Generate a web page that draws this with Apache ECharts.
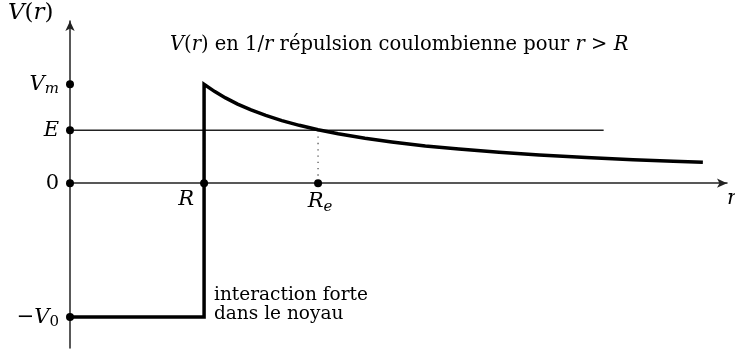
<!DOCTYPE html>
<html>
<head>
<meta charset="utf-8">
<style>
  html, body { margin: 0; padding: 0; background: #fff; }
  #chart { width: 735px; height: 352px; }
</style>
<script src="https://cdn.jsdelivr.net/npm/echarts@6/dist/echarts.min.js"></script>
</head>
<body>
<div id="chart"></div>
<script>
// r in units of the nuclear radius R, V in units of the barrier height Vm
const R = 1;
const Re = 1.85;
const Vm = 1;
const E = 0.535;
const V0 = 1.354;
const wellR = [0, 1];
const energyLineEnd = 3.98;

// Coulomb tail for r > R, read point by point
const tailR = [1, 1.08, 1.16, 1.25, 1.35, 1.46, 1.58, 1.71, 1.85, 2.0, 2.2, 2.4, 2.65, 2.9, 3.2, 3.5, 3.85, 4.2, 4.5, 4.72];
const tailV = [1, 0.926, 0.862, 0.8, 0.741, 0.685, 0.633, 0.585, 0.54, 0.5, 0.455, 0.417, 0.377, 0.345, 0.313, 0.286, 0.26, 0.238, 0.222, 0.212];

const xMax = 4.9;
const yMax = 1.64;
const yMin = -1.667;

const serif = '"DejaVu Serif", "Liberation Serif", serif';
const ink = '#000';

const potential = [[wellR[0], -V0], [wellR[1], -V0]]
  .concat(tailR.map((r, i) => [r, tailV[i]]));

const yMarks = [
  { value: [0, Vm], text: '{v|V}{s|m}' },
  { value: [0, E], text: '{v|E}' },
  { value: [0, 0], text: '{u|0}' },
  { value: [0, -V0], text: '{u|−}{v|V}{su|0}' }
];

const rich = {
  v: { fontFamily: serif, fontStyle: 'italic', fontSize: 21, color: ink },
  u: { fontFamily: serif, fontSize: 21, color: ink },
  big: { fontFamily: serif, fontStyle: 'italic', fontSize: 23, color: ink },
  bigu: { fontFamily: serif, fontSize: 23, color: ink },
  t: { fontFamily: serif, fontSize: 19.5, color: ink },
  tv: { fontFamily: serif, fontStyle: 'italic', fontSize: 19.5, color: ink },
  s: { fontFamily: serif, fontStyle: 'italic', fontSize: 15, color: ink, padding: [10, 0, 0, 0] },
  su: { fontFamily: serif, fontSize: 15, color: ink, padding: [10, 0, 0, 0] }
};

const labelBase = { show: true, color: ink, rich: rich };
const dotStyle = { color: '#000', opacity: 1 };

const chart = echarts.init(document.getElementById('chart'), null, { renderer: 'canvas' });
chart.setOption({
  animation: false,
  backgroundColor: '#fff',
  grid: { left: 70, right: 8, top: 21, bottom: 4 },
  xAxis: {
    type: 'value', min: 0, max: xMax,
    axisLine: { show: true, onZero: true, symbol: ['none', 'arrow'], symbolSize: [7, 10],
      lineStyle: { color: '#222', width: 1.5 } },
    axisTick: { show: false }, axisLabel: { show: false }, splitLine: { show: false }
  },
  yAxis: {
    type: 'value', min: yMin, max: yMax,
    axisLine: { show: true, onZero: true, symbol: ['none', 'arrow'], symbolSize: [7, 10],
      lineStyle: { color: '#222', width: 1.5 } },
    axisTick: { show: false }, axisLabel: { show: false }, splitLine: { show: false }
  },
  graphic: [
    { type: 'text', left: 8, top: 2,
      style: { text: '{big|V}{bigu|(}{big|r}{bigu|)}', rich: rich } },
    { type: 'text', left: 727, top: 188,
      style: { text: 'r', font: 'italic 21px ' + serif, fill: ink } },
    { type: 'text', left: 170, top: 35,
      style: { text: '{tv|V}{t|(}{tv|r}{t|) en 1/}{tv|r}{t| répulsion coulombienne pour }{tv|r}{t| > }{tv|R}', rich: rich } },
    { type: 'text', left: 214, top: 286,
      style: { text: 'interaction forte\ndans le noyau', font: '18.5px ' + serif, fill: ink, lineHeight: 19 } }
  ],
  series: [
    {
      type: 'line', data: [[0, E], [energyLineEnd, E]],
      showSymbol: false, lineStyle: { color: '#222', width: 1.5 }, z: 2
    },
    {
      type: 'line', data: [[Re, E], [Re, 0]],
      showSymbol: false, lineStyle: { color: '#555', width: 1.3, type: [1.3, 5] }, z: 2
    },
    {
      type: 'line', data: potential,
      showSymbol: false, smooth: false,
      lineStyle: { color: '#000', width: 3.5, join: 'miter' }, z: 3
    },
    {
      type: 'scatter', symbol: 'circle', symbolSize: 8,
      itemStyle: dotStyle, z: 5,
      data: yMarks.map(m => ({
        value: m.value,
        label: Object.assign({}, labelBase, { position: 'left', distance: 7, formatter: m.text })
      }))
    },
    {
      type: 'scatter', symbol: 'circle', symbolSize: 8,
      itemStyle: dotStyle, z: 5,
      data: [
        { value: [R, 0], label: Object.assign({}, labelBase,
          { position: 'bottom', distance: 2, offset: [-18, 0], formatter: '{v|R}' }) },
        { value: [Re, 0], label: Object.assign({}, labelBase,
          { position: 'bottom', distance: 2, offset: [2, 0], formatter: '{v|R}{s|e}' }) }
      ]
    }
  ]
});
</script>
</body>
</html>
